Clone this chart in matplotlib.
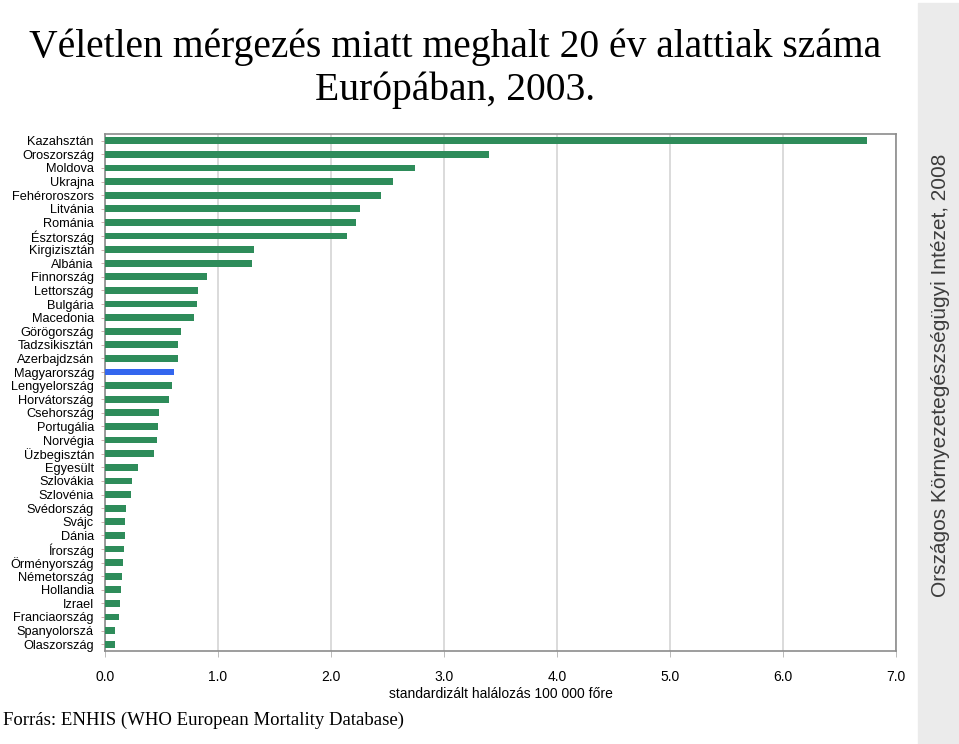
import matplotlib
matplotlib.use("Agg")
import matplotlib.pyplot as plt
from matplotlib.patches import Rectangle

# countries, top to bottom
countries = [
    "Kazahsztán", "Oroszország", "Moldova", "Ukrajna", "Fehéroroszors",
    "Litvánia", "Románia", "Észtország", "Kirgizisztán", "Albánia",
    "Finnország", "Lettország", "Bulgária", "Macedonia", "Görögország",
    "Tadzsikisztán", "Azerbajdzsán", "Magyarország", "Lengyelország",
    "Horvátország", "Csehország", "Portugália", "Norvégia", "Üzbegisztán",
    "Egyesült", "Szlovákia", "Szlovénia", "Svédország", "Svájc", "Dánia",
    "Írország", "Örményország", "Németország", "Hollandia", "Izrael",
    "Franciaország", "Spanyolorszá", "Olaszország",
]
# standardised deaths per 100 000
values = [
    6.74, 3.40, 2.74, 2.55, 2.44,
    2.26, 2.22, 2.14, 1.32, 1.30,
    0.90, 0.82, 0.81, 0.79, 0.67,
    0.65, 0.65, 0.61, 0.59,
    0.57, 0.48, 0.47, 0.46, 0.43,
    0.29, 0.24, 0.23, 0.19, 0.18, 0.18,
    0.17, 0.16, 0.15, 0.14, 0.13,
    0.12, 0.09, 0.09,
]
highlight = "Magyarország"
xticks = [0, 1, 2, 3, 4, 5, 6, 7]

green = "#2e8c5a"
blue = "#3366ee"
colors = [blue if c == highlight else green for c in countries]

fig = plt.figure(figsize=(9.59, 7.44), dpi=100)
ax = fig.add_axes([0.1095, 0.125, 0.8248, 0.695])

ypos = list(range(len(countries)))
ax.barh(ypos, values, height=0.5, color=colors, zorder=3)
ax.set_ylim(len(countries) - 0.5, -0.5)
ax.set_xlim(0, 7)
ax.set_yticks(ypos)
ax.set_yticklabels(countries, fontsize=9.2, family="Liberation Sans")
ax.set_xticks(xticks)
ax.set_xticklabels(["%.1f" % t for t in xticks], fontsize=10, family="Liberation Sans")
ax.tick_params(axis="y", length=3, width=0.6, color="#c8a0a0", pad=5)
ax.tick_params(axis="x", length=4, width=0.6, color="#b0b0b0", pad=10)
ax.xaxis.grid(True, color="#d4d4d4", linewidth=1.2, zorder=0)
for s in ax.spines.values():
    s.set_color("#8c8c8c")
    s.set_linewidth(1.2)
ax.set_xlabel("standardizált halálozás 100 000 főre", fontsize=10,
              family="Liberation Sans", labelpad=2)

# title
fig.text(0.474, 0.937, "Véletlen mérgezés miatt meghalt 20 év alattiak száma",
         ha="center", va="center", fontsize=28.5, family="Liberation Serif")
fig.text(0.474, 0.879, "Európában, 2003.",
         ha="center", va="center", fontsize=28.5, family="Liberation Serif")

# source
fig.text(0.003, 0.032, "Forrás: ENHIS (WHO European Mortality Database)",
         ha="left", va="center", fontsize=13.5, family="Liberation Serif")

# side strip
fig.patches.append(Rectangle((918 / 959, 0), 1 - 918 / 959, 1 - 3 / 744,
                             transform=fig.transFigure, color="#ebebeb", zorder=0))
fig.text(940 / 959, 0.495, "Országos Környezetegészségügyi Intézet, 2008",
         rotation=90, ha="center", va="center", fontsize=15,
         family="Liberation Sans", color="#3c3c3c")

fig.savefig("out.png", dpi=100)
